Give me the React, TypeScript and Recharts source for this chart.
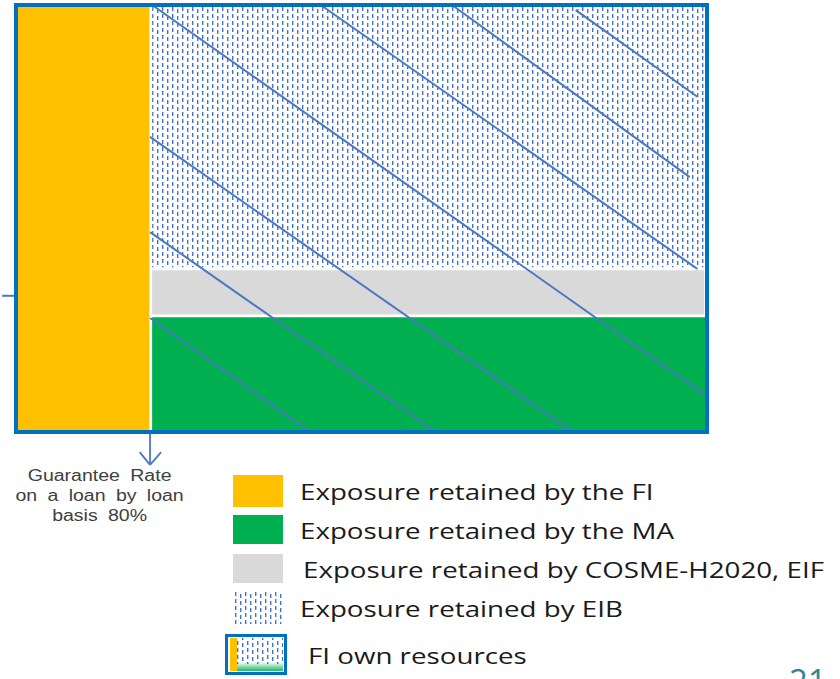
import React from "react"
import { ComposedChart, XAxis, YAxis, ReferenceArea, ReferenceLine } from "recharts"

// blocks of the guarantee diagram, in % of the loan (x) and % of the exposure (y)
const blockNames = ["FI", "EIB", "COSME-H2020, EIF", "MA"]
const blockX1 = [0, 19.7, 19.7, 19.7]
const blockX2 = [19.3, 100, 99.6, 100]
const blockY1 = [0, 38.6, 27.5, 0]
const blockY2 = [100, 100, 37.9, 26.9]

// diagonal hatch segments (start / end)
const hatchX1 = [19.7, 19.4, 19.4, 19.4, 44.1, 63.1, 81.0]
const hatchY1 = [100, 69.1, 46.8, 26.7, 100, 100, 98.8]
const hatchX2 = [100, 80.6, 60.8, 42.6, 98.6, 97.5, 98.6]
const hatchY2 = [8.4, 0, 0, 0, 38.2, 59.7, 78.5]

const guaranteeRate = 80
const tickLevel = 31.9

const legendLabels = [
  "Exposure retained by the FI",
  "Exposure retained by the MA",
  "Exposure retained by COSME-H2020, EIF",
  "Exposure retained by EIB",
  "FI own resources",
]

const corners = [
  { x: 0, y: 0 },
  { x: 100, y: 100 },
]

const fills: Record<string, string> = {
  FI: "#FFC000",
  EIB: "url(#eibDots)",
  "COSME-H2020, EIF": "#D9D9D9",
  MA: "#00B050",
}

const hatchColor = "#4A78C2"
const frameColor = "#0070C0"

function Dots({ id }: { id: string }) {
  return (
    <pattern id={id} width={10} height={7} patternUnits="userSpaceOnUse">
      <rect x={2} y={0} width={1.4} height={4} fill="#4472C4" />
      <rect x={7} y={2} width={1.4} height={4} fill="#4472C4" />
    </pattern>
  )
}

function Swatch({ i }: { i: number }) {
  if (i === 3) {
    return (
      <svg width={50} height={32} style={{ display: "block" }}>
        <defs><Dots id="legDots" /></defs>
        <rect x={2} y={0} width={48} height={32} fill="url(#legDots)" />
      </svg>
    )
  }
  if (i === 4) {
    return (
      <svg width={62} height={41} style={{ display: "block" }}>
        <defs>
          <Dots id="legDots2" />
          <linearGradient id="legGreen" x1="0" y1="0" x2="0" y2="1">
            <stop offset="0%" stopColor="#00B050" stopOpacity={0} />
            <stop offset="100%" stopColor="#00B050" stopOpacity={0.9} />
          </linearGradient>
        </defs>
        <rect x={2} y={2} width={58} height={37} fill="#fff" />
        <rect x={12} y={4} width={46} height={26} fill="url(#legDots2)" />
        <rect x={12} y={28} width={46} height={9} fill="url(#legGreen)" />
        <rect x={5} y={4} width={7} height={33} fill="#FFC000" />
        <rect x={1.5} y={1.5} width={59} height={38} fill="none" stroke={frameColor} strokeWidth={3} />
      </svg>
    )
  }
  const col = ["#FFC000", "#00B050", "#D9D9D9"][i]
  return <div style={{ width: 50, height: [32, 29, 29][i], background: col }} />
}

export default function App() {
  const legendTops = [475, 515, 554, 592, 634]
  const legendHeights = [32, 29, 29, 32, 41]
  const textLeft = [300, 300, 303, 300, 308]
  const swatchLeft = [233, 233, 233, 233, 225]

  return (
    <div style={{ position: "absolute", left: 0, top: 0, width: 840, height: 679, overflow: "hidden", background: "#fff" }}>
      <ComposedChart width={840} height={470} data={corners} margin={{ top: 5, left: 16, right: 133, bottom: 38 }}>
        <defs>
          <Dots id="eibDots" />
        </defs>
        <XAxis type="number" dataKey="x" domain={[0, 100]} hide allowDataOverflow />
        <YAxis type="number" dataKey="y" domain={[0, 100]} hide allowDataOverflow />
        {blockNames.map((n, i) => (
          <ReferenceArea
            key={n}
            x1={blockX1[i]}
            x2={blockX2[i]}
            y1={blockY1[i]}
            y2={blockY2[i]}
            fill={fills[n]}
            fillOpacity={1}
            stroke="none"
            ifOverflow="visible"
          />
        ))}
        {hatchX1.map((x, i) => (
          <ReferenceLine
            key={"h" + i}
            segment={[{ x, y: hatchY1[i] }, { x: hatchX2[i], y: hatchY2[i] }]}
            stroke={hatchColor}
            strokeWidth={2}
            ifOverflow="visible"
          />
        ))}
        <ReferenceLine
          segment={[{ x: -2.0, y: tickLevel }, { x: 0, y: tickLevel }]}
          stroke={hatchColor}
          strokeWidth={2}
          ifOverflow="visible"
        />
        {/* arrow pointing at the guarantee split */}
        <ReferenceLine
          segment={[{ x: 100 - guaranteeRate - 0.6, y: 0 }, { x: 100 - guaranteeRate - 0.6, y: -7.7 }]}
          stroke={hatchColor}
          strokeWidth={1.8}
          ifOverflow="visible"
        />
        <ReferenceLine
          segment={[{ x: 17.9, y: -4.7 }, { x: 100 - guaranteeRate - 0.6, y: -7.7 }]}
          stroke={hatchColor}
          strokeWidth={1.8}
          ifOverflow="visible"
        />
        <ReferenceLine
          segment={[{ x: 21.0, y: -4.7 }, { x: 100 - guaranteeRate - 0.6, y: -7.7 }]}
          stroke={hatchColor}
          strokeWidth={1.8}
          ifOverflow="visible"
        />
        <ReferenceArea
          x1={0}
          x2={100}
          y1={0}
          y2={100}
          fill="none"
          fillOpacity={0}
          stroke={frameColor}
          strokeWidth={4}
          ifOverflow="visible"
          zIndex={1500}
        />
      </ComposedChart>

      <div
        style={{
          position: "absolute",
          left: 0,
          top: 466,
          width: 199,
          textAlign: "center",
          fontFamily: "'Liberation Sans', Arial, sans-serif",
          fontSize: 16,
          lineHeight: "20px",
          color: "#404040",
          wordSpacing: 4,
          transform: "scaleX(1.22)",
          transformOrigin: "99px 0",
        }}
      >
        Guarantee Rate<br />on a loan by loan<br />basis {guaranteeRate}%
      </div>

      {legendLabels.map((l, i) => (
        <React.Fragment key={l}>
          <div style={{ position: "absolute", left: swatchLeft[i], top: legendTops[i] }}>
            <Swatch i={i} />
          </div>
          <div
            style={{
              position: "absolute",
              left: textLeft[i],
              top: legendTops[i],
              height: legendHeights[i],
              display: "flex",
              alignItems: "center",
              fontFamily: "'Open Sans', sans-serif",
              fontSize: 22,
              color: "#1a1a1a",
              whiteSpace: "nowrap",
              transform: "scaleX(1.26)",
              transformOrigin: "0 0",
            }}
          >
            {l}
          </div>
        </React.Fragment>
      ))}

      <div
        style={{
          position: "absolute",
          left: 789,
          top: 664,
          fontFamily: "'Open Sans', sans-serif",
          fontSize: 33,
          lineHeight: "33px",
          color: "#31849B",
        }}
      >
        21
      </div>
    </div>
  )
}
